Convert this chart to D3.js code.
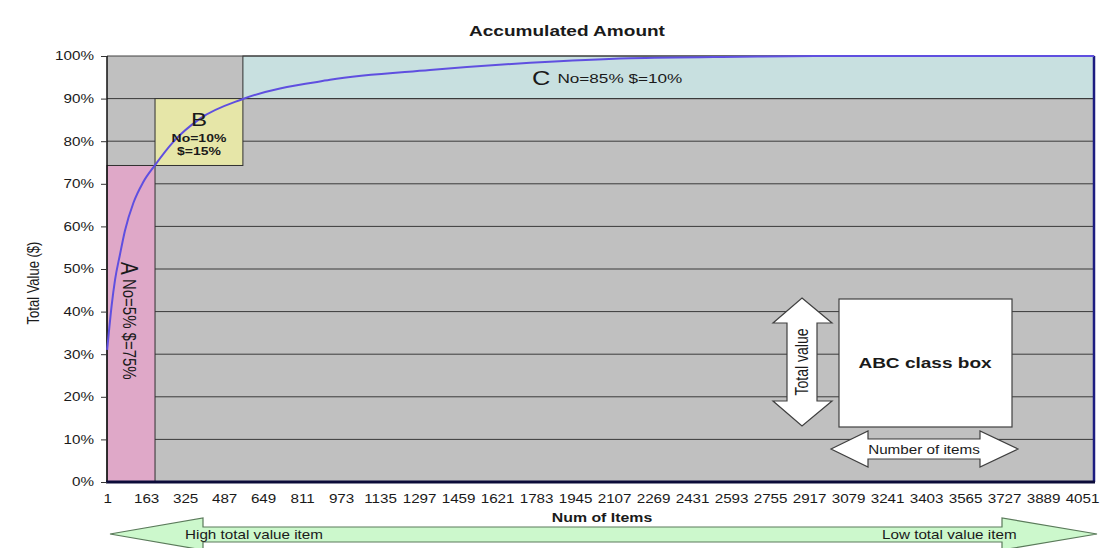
<!DOCTYPE html>
<html>
<head>
<meta charset="utf-8">
<script src="https://cdn.jsdelivr.net/npm/d3@7"></script>
<style>
    body { margin: 0; background: #fff; }
    svg { display: block; }
    text { font-family: "Liberation Sans", Arial, sans-serif; fill: #1a1a1a; }
</style>
</head>
<body>
<div id="chart"></div>
<script>
// data
const itemNums = [1, 8, 20, 34, 54, 75, 110, 150, 200, 275, 387, 565, 927, 1342, 1758, 2173, 2630, 2942, 4100];
const cumPct = [31, 35, 41.5, 47.5, 53.3, 59, 65.5, 70.3, 74.4, 79.8, 85.3, 89.9, 94.4, 96.7, 98.4, 99.5, 99.85, 100, 100];
const xTickLabels = [1, 163, 325, 487, 649, 811, 973, 1135, 1297, 1459, 1621, 1783, 1945, 2107,
    2269, 2431, 2593, 2755, 2917, 3079, 3241, 3403, 3565, 3727, 3889, 4051];
const yTickLabels = [0, 10, 20, 30, 40, 50, 60, 70, 80, 90, 100];
const classNames = ["A", "B", "C"];
const classItemFrom = [0.5, 200, 565];
const classItemTo = [200, 565, 4100];
const classPctFrom = [0, 74.3, 90];
const classPctTo = [74.3, 90, 100];

// constants
const N_ITEMS = 4100;
const WIDTH = 1104;
const HEIGHT = 548;
const PLOT = { left: 107, right: 1094, top: 56, bottom: 482 };
const STRETCH = 1.27; // the original picture is stretched sideways
const NARROW = '"Liberation Sans Narrow", "DejaVu Sans Condensed", sans-serif';
const CLASS_FILL = { A: "#dfa8c8", B: "#e6e6a8", C: "#c8e0e0" };
const PLOT_GREY = "#c0c0c0";
const GRID = "#3a3a3a";
const CURVE = "#5f4fe0";

const svg = d3.select("#chart").append("svg")
    .attr("width", WIDTH)
    .attr("height", HEIGHT);

const x = d3.scaleLinear().domain([0.5, N_ITEMS + 0.5]).range([PLOT.left, PLOT.right]);
const y = d3.scaleLinear().domain([0, 100]).range([PLOT.bottom, PLOT.top]);

// plot background
svg.append("rect")
    .attr("x", PLOT.left).attr("y", PLOT.top)
    .attr("width", PLOT.right - PLOT.left).attr("height", PLOT.bottom - PLOT.top)
    .attr("fill", PLOT_GREY);

// grid lines
svg.append("g").selectAll("line")
    .data(yTickLabels.filter(d => d > 0 && d < 100))
    .join("line")
    .attr("x1", PLOT.left).attr("x2", PLOT.right)
    .attr("y1", d => y(d)).attr("y2", d => y(d))
    .attr("stroke", GRID).attr("stroke-width", 1);

// class boxes
svg.append("g").selectAll("rect")
    .data(classNames)
    .join("rect")
    .attr("x", (d, i) => x(classItemFrom[i]))
    .attr("width", (d, i) => x(classItemTo[i]) - x(classItemFrom[i]))
    .attr("y", (d, i) => y(classPctTo[i]))
    .attr("height", (d, i) => y(classPctFrom[i]) - y(classPctTo[i]))
    .attr("fill", d => CLASS_FILL[d])
    .attr("stroke", "#303030").attr("stroke-width", 1);

// borders
svg.append("line")
    .attr("x1", PLOT.left).attr("x2", PLOT.right).attr("y1", PLOT.top).attr("y2", PLOT.top)
    .attr("stroke", "#404040").attr("stroke-width", 1);
svg.append("line")
    .attr("x1", PLOT.right).attr("x2", PLOT.right).attr("y1", PLOT.top).attr("y2", PLOT.bottom)
    .attr("stroke", "#1c1c80").attr("stroke-width", 2.5);
svg.append("line")
    .attr("x1", PLOT.left).attr("x2", PLOT.left).attr("y1", PLOT.top).attr("y2", PLOT.bottom)
    .attr("stroke", "#111").attr("stroke-width", 1.5);

// accumulated curve
const curvePts = itemNums.map((d, i) => [d, cumPct[i]]);
svg.append("path")
    .datum(curvePts)
    .attr("fill", "none")
    .attr("stroke", CURVE)
    .attr("stroke-width", 2)
    .attr("d", d3.line().x(d => x(d[0])).y(d => y(d[1])).curve(d3.curveMonotoneX));

svg.append("line")
    .attr("x1", PLOT.left - 1).attr("x2", PLOT.right + 1).attr("y1", PLOT.bottom).attr("y2", PLOT.bottom)
    .attr("stroke", "#0c0c3a").attr("stroke-width", 3);

// axes
const yAxis = svg.append("g")
    .attr("transform", `translate(${PLOT.left},0)`)
    .call(d3.axisLeft(y).tickValues(yTickLabels).tickSize(6).tickPadding(0).tickFormat(d => d + "%"));
const xAxis = svg.append("g")
    .attr("transform", `translate(0,${PLOT.bottom})`)
    .call(d3.axisBottom(x).tickValues(xTickLabels).tickSize(0).tickPadding(12).tickFormat(d => d));

[yAxis, xAxis].forEach(ax => {
    ax.select(".domain").remove();
    ax.selectAll("line").attr("stroke", "#333");
    ax.selectAll("text")
        .attr("font-family", '"Liberation Sans", Arial, sans-serif')
        .attr("font-size", 12)
        .attr("fill", "#1a1a1a");
});
yAxis.selectAll("text").attr("x", -13 / STRETCH).attr("transform", `scale(${STRETCH},1)`);
xAxis.selectAll("text").attr("transform", `scale(${STRETCH},1)`);

// text helper - stretched like the source picture
function label(px, py, txt, size, opts = {}) {
    const t = svg.append("text")
        .attr("transform", `translate(${px},${py}) scale(${STRETCH},1) rotate(${opts.rotate || 0})`)
        .attr("text-anchor", opts.anchor || "middle")
        .attr("dominant-baseline", "central")
        .attr("font-size", size)
        .attr("font-weight", opts.bold ? "bold" : "normal")
        .text(txt);
    if (opts.family) t.attr("font-family", opts.family);
    return t;
}

label(567, 31, "Accumulated Amount", 15, { bold: true });
label(602, 518, "Num of Items", 12.5, { bold: true });
label(33, 283, "Total Value ($)", 13, { rotate: -90, family: NARROW });

// class captions
const cx = (i) => (x(classItemFrom[i]) + x(classItemTo[i])) / 2;
label(cx(1), 119, "B", 19);
label(cx(1), 139, "No=10%", 11, { bold: true, family: '"Liberation Serif", serif' });
label(cx(1), 152, "$=15%", 11, { bold: true, family: '"Liberation Serif", serif' });

const cLabel = svg.append("text")
    .attr("transform", `translate(532,78) scale(${STRETCH},1)`)
    .attr("dominant-baseline", "central")
    .attr("text-anchor", "start");
cLabel.append("tspan").attr("font-size", 20).text("C ");
cLabel.append("tspan").attr("font-size", 13.5).text("No=85% $=10%");

const aLabel = svg.append("text")
    .attr("transform", `translate(${cx(0) - 1},262) scale(${STRETCH},1) rotate(90)`)
    .attr("dominant-baseline", "central")
    .attr("text-anchor", "start");
aLabel.append("tspan").attr("font-size", 19).text("A ");
aLabel.append("tspan").attr("font-size", 15).text("No=5% $=75%");

// ABC class box legend
function arrow(points, fill, stroke) {
    svg.append("path")
        .attr("d", d3.line()(points) + "Z")
        .attr("fill", fill)
        .attr("stroke", stroke)
        .attr("stroke-width", 1.2);
}

svg.append("rect")
    .attr("x", 839).attr("y", 299).attr("width", 173).attr("height", 128)
    .attr("fill", "#fff").attr("stroke", "#404040").attr("stroke-width", 1.2);
label(925, 363, "ABC class box", 15, { bold: true });

arrow([[802, 298], [832, 323], [817, 323], [817, 401], [832, 401], [802, 426],
    [773, 401], [787, 401], [787, 323], [773, 323]], "#fff", "#404040");
label(802, 362, "Total value", 14, { rotate: -90, family: NARROW });

arrow([[831, 449], [868, 431], [868, 439], [980, 439], [980, 431], [1018, 449],
    [980, 467], [980, 459], [868, 459], [868, 467]], "#fff", "#404040");
label(924, 450, "Number of items", 12);

// bottom direction arrow
arrow([[110, 534], [203, 518], [203, 527], [1002, 527], [1002, 518], [1097, 534],
    [1002, 550], [1002, 542], [203, 542], [203, 550]], "#ccf8cc", "#5a7a5a");
label(185, 535, "High total value item", 12, { anchor: "start" });
label(882, 535, "Low total value item", 12, { anchor: "start" });
</script>
</body>
</html>
